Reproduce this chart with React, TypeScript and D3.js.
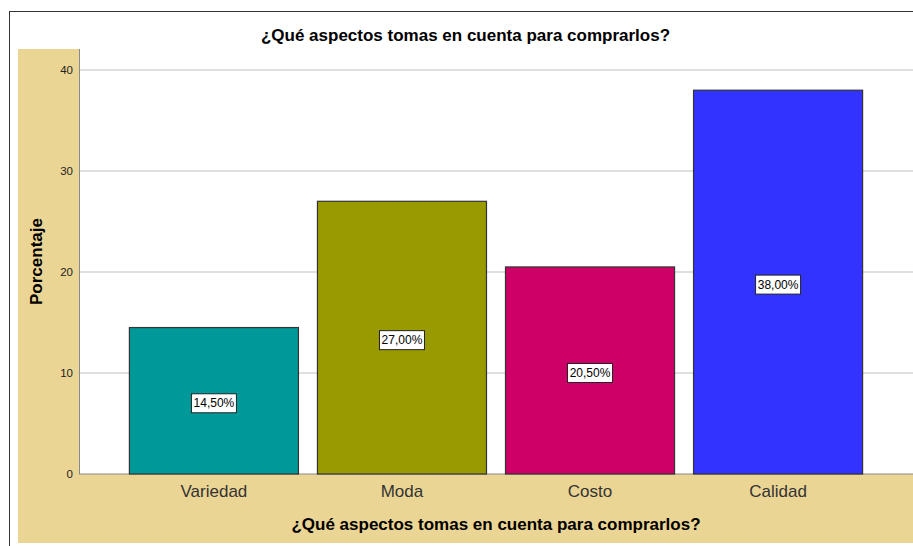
import React from "react";
import * as d3 from "d3";

const categories = ["Variedad", "Moda", "Costo", "Calidad"];
const values = [14.5, 27.0, 20.5, 38.0];
const labels = ["14,50%", "27,00%", "20,50%", "38,00%"];
const colors = ["#009999", "#999900", "#cc0066", "#3333ff"];
const yTicks = [0, 10, 20, 30, 40];
const title = "¿Qué aspectos tomas en cuenta para comprarlos?";
const yTitle = "Porcentaje";

const W = 913;
const H = 546;
const plotLeft = 79;
const plotRight = 913;
const plotTop = 49;
const plotBottom = 474;
const FONT = "'Liberation Sans', Arial, sans-serif";

export default function App() {
  const x = d3
    .scaleBand<string>()
    .domain(categories)
    .range([plotLeft, plotRight])
    .paddingInner(0.101)
    .paddingOuter(0.268);
  const y = d3.scaleLinear().domain([0, 40]).range([plotBottom, plotTop + 21]);

  return (
    <svg
      width={W}
      height={H}
      style={{ position: "absolute", left: 0, top: 0 }}
      fontFamily={FONT}
    >
      <rect x={0} y={0} width={W} height={H} fill="#ffffff" />
      {/* frame */}
      <line x1={9.5} y1={11} x2={9.5} y2={H} stroke="#333" strokeWidth={1} />
      <line x1={9} y1={11.5} x2={W} y2={11.5} stroke="#333" strokeWidth={1} />
      {/* tan areas */}
      <rect x={18} y={plotTop} width={plotLeft - 18} height={543 - plotTop} fill="#ebd594" />
      <rect x={18} y={plotBottom} width={W - 18} height={543 - plotBottom} fill="#ebd594" />
      {/* plot area */}
      <rect x={plotLeft} y={plotTop} width={plotRight - plotLeft} height={plotBottom - plotTop} fill="#ffffff" />
      {/* grid */}
      {yTicks.filter((t) => t > 0).map((t) => (
        <line key={t} x1={plotLeft} x2={plotRight} y1={y(t)} y2={y(t)} stroke="#d4d4d4" strokeWidth={1.5} />
      ))}
      {/* axis lines */}
      <line x1={plotLeft + 0.5} x2={plotLeft + 0.5} y1={plotTop} y2={plotBottom} stroke="#8a8a8a" strokeWidth={1} />
      <line x1={plotLeft} x2={plotRight} y1={plotBottom} y2={plotBottom} stroke="#8a8a8a" strokeWidth={1} />
      {/* y ticks */}
      {yTicks.map((t) => (
        <text key={t} x={73} y={y(t)} dy="0.35em" textAnchor="end" fontSize={11.5} fill="#222">
          {t}
        </text>
      ))}
      {/* bars */}
      {categories.map((c, i) => (
        <rect
          key={c}
          x={x(c)}
          y={y(values[i])}
          width={x.bandwidth()}
          height={plotBottom - y(values[i])}
          fill={colors[i]}
          stroke="#333"
          strokeWidth={1.2}
        />
      ))}
      {/* data labels */}
      {categories.map((c, i) => {
        const cx = (x(c) as number) + x.bandwidth() / 2;
        const cy = y(values[i] / 2) + 2.5;
        return (
          <g key={c}>
            <rect x={cx - 22.5} y={cy - 9.5} width={45} height={19} fill="#fff" stroke="#222" strokeWidth={1} />
            <text x={cx} y={cy} dy="0.35em" textAnchor="middle" fontSize={12} fill="#000">
              {labels[i]}
            </text>
          </g>
        );
      })}
      {/* category labels */}
      {categories.map((c) => (
        <text
          key={c}
          x={(x(c) as number) + x.bandwidth() / 2}
          y={491}
          dy="0.35em"
          textAnchor="middle"
          fontSize={17}
          fill="#333"
        >
          {c}
        </text>
      ))}
      {/* titles */}
      <text x={465.5} y={35} dy="0.35em" textAnchor="middle" fontSize={17} fontWeight="bold" fill="#000">
        {title}
      </text>
      <text x={496} y={524} dy="0.35em" textAnchor="middle" fontSize={17} fontWeight="bold" fill="#000">
        {title}
      </text>
      <text
        transform={`translate(36, 261.5) rotate(-90)`}
        dy="0.35em"
        textAnchor="middle"
        fontSize={17}
        fontWeight="bold"
        fill="#000"
      >
        {yTitle}
      </text>
    </svg>
  );
}
